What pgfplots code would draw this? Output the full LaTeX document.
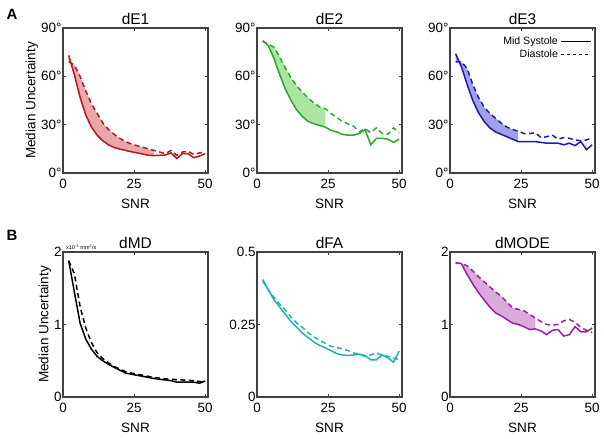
\documentclass[border=0pt]{standalone}
\usepackage{fontspec}
\setmainfont{Liberation Sans}
\usepackage{pgfplots}
\pgfplotsset{compat=1.18}

\definecolor{cred}{RGB}{190,20,28}
\definecolor{credf}{RGB}{232,168,170}
\definecolor{cgreen}{RGB}{40,170,40}
\definecolor{cgreenf}{RGB}{172,228,162}
\definecolor{cblue}{RGB}{28,28,175}
\definecolor{cbluef}{RGB}{160,160,228}
\definecolor{cteal}{RGB}{30,180,170}
\definecolor{cpurp}{RGB}{160,30,160}
\definecolor{cpurpf}{RGB}{218,170,218}
\definecolor{frame}{RGB}{65,65,65}

\pgfplotsset{
  panel/.style={
    scale only axis, width=145bp, height=145bp,
    xmin=0, xmax=51, xtick={0,25,50},
    axis line style={draw=frame, line width=1.3bp},
    tick style={draw=frame, line width=0.6bp},
    major tick length=3bp, tick align=inside,
    xlabel={SNR},
    ticklabel style={font=\fontsize{13.5}{13.5}\selectfont},
    xticklabel style={yshift=-3bp},
    yticklabel style={xshift=2bp},
    label style={font=\fontsize{13.6}{13.6}\selectfont},
    xlabel style={yshift=-3bp},
    ylabel style={yshift=-4bp},
    title style={font=\fontsize{15.5}{15.5}\selectfont, yshift=-6bp},
    /pgf/number format/assume math mode=true,
  },
  sol/.style={line width=1.5bp, solid},
  das/.style={line width=1.5bp, dash pattern=on 5bp off 3.5bp},
  deg/.style={ymin=0, ymax=90, ytick={0,30,60,90}, yticklabels={0°,30°,60°,90°}},
}

\begin{document}
\begin{tikzpicture}
\useasboundingbox (0,0) rectangle (604bp,439bp);

% ---- row A ----
\begin{axis}[panel, deg, at={(63bp,266bp)}, anchor=south west, title={dE1},
  ylabel={Median Uncertainty}]
% shaded band: solid 2..32, then dashed back 32..2
\addplot[fill=credf, draw=none, forget plot] coordinates {
 (2,73)(4,61)(6,47)(8,36)(10,28.5)(12,23.5)(14,20)(16,17.5)(18,15.8)(20,14.8)
 (22,14)(24,13.2)(26,12.5)(28,11.8)(30,11)(32,10.8)
 (32,14)(30,15)(28,16)(26,17)(24,18)(22,19.5)(20,21.5)(18,24)(16,27)(14,31)
 (12,37)(10,43)(8,51)(6,60)(4,67)(2,69)};
\addplot[cred, sol, forget plot] coordinates {
 (2,73)(4,61)(6,47)(8,36)(10,28.5)(12,23.5)(14,20)(16,17.5)(18,15.8)(20,14.8)
 (22,14)(24,13.2)(26,12.5)(28,11.8)(30,11)(32,10.8)(34,11)(36,11.2)(38,12.5)
 (40,9)(42,12)(44,12)(46,9.5)(48,10.5)(50,12)};
\addplot[cred, das, forget plot] coordinates {
 (2,69)(4,67)(6,60)(8,51)(10,43)(12,37)(14,31)(16,27)(18,24)(20,21.5)
 (22,19.5)(24,18)(26,17)(28,16)(30,15)(32,14)(34,13)(36,12)(38,14)
 (40,11)(42,13)(44,13.5)(46,11.5)(48,12.5)(50,13)};
\end{axis}

\begin{axis}[panel, deg, at={(257bp,266bp)}, anchor=south west, title={dE2}]
\addplot[fill=cgreenf, draw=none, forget plot] coordinates {
 (2,82)(4,79)(6,71)(8,61)(10,52)(12,45)(14,39)(16,35)(18,32)(20,30.5)
 (22,29.5)(24,28.5)
 (24,40)(22,41)(20,43.5)(18,46.5)(16,50)(14,54)(12,59)(10,65)(8,72)(6,78)
 (4,80)(2,82)};
\addplot[cgreen, sol, forget plot] coordinates {
 (2,82)(4,79)(6,71)(8,61)(10,52)(12,45)(14,39)(16,35)(18,32)(20,30.5)
 (22,29.5)(24,28.5)(26,26.5)(28,25.5)(30,24)(32,23.5)(34,23.5)(36,24.5)(38,27)
 (40,17.5)(42,21.5)(44,21.5)(46,21)(48,19)(50,21)};
\addplot[cgreen, das, forget plot] coordinates {
 (2,82)(4,80)(6,78)(8,72)(10,65)(12,59)(14,54)(16,50)(18,46.5)(20,43.5)
 (22,41)(24,40)(26,37)(28,34.5)(30,32)(32,30.5)(34,29)(36,25.5)(38,27.5)
 (40,25)(42,28)(44,24.5)(46,24)(48,28)(50,25)};
\end{axis}

\begin{axis}[panel, deg, at={(450bp,266bp)}, anchor=south west, title={dE3},
  legend style={draw=none, fill=none, at={(0.975,0.955)}, anchor=north east,
    font=\fontsize{10.6}{11}\selectfont, row sep=0bp, inner sep=0bp},
  legend plot pos=right, legend cell align=right,
  legend image code/.code={\draw[#1] (0bp,0bp) -- (30bp,0bp);}]
\addlegendimage{black, line width=1.3bp, solid}
\addlegendentry{Mid Systole}
\addlegendimage{black, line width=1.3bp, dash pattern=on 3.5bp off 2.5bp}
\addlegendentry{Diastole}
\addplot[fill=cbluef, draw=none, forget plot] coordinates {
 (2,74)(4,66)(6,55)(8,45)(10,37.5)(12,32)(14,28)(16,25.5)(18,24)(20,22.5)
 (22,21)(24,19.5)
 (24,26)(22,27)(20,28.5)(18,31)(16,34)(14,37)(12,41)(10,47)(8,55)(6,65)
 (4,69)(2,69)};
\addplot[cblue, sol, forget plot] coordinates {
 (2,74)(4,66)(6,55)(8,45)(10,37.5)(12,32)(14,28)(16,25.5)(18,24)(20,22.5)
 (22,21)(24,19.5)(26,19.5)(28,19.5)(30,19.5)(32,19)(34,18.5)(36,18.5)(38,18.5)
 (40,17.5)(42,18.5)(44,17)(46,19.5)(48,14.5)(50,17.5)};
\addplot[cblue, das, forget plot] coordinates {
 (2,69)(4,69)(6,65)(8,55)(10,47)(12,41)(14,37)(16,34)(18,31)(20,28.5)
 (22,27)(24,26)(26,24.5)(28,24.5)(30,25)(32,22)(34,22.5)(36,23.5)(38,21)
 (40,22)(42,21.5)(44,20.5)(46,20)(48,20.5)(50,22)};
\end{axis}

% ---- row B ----
\begin{axis}[panel, at={(63bp,42bp)}, anchor=south west, title={dMD},
  ylabel={Median Uncertainty}, ymin=0, ymax=2, ytick={0,1,2}]
\addplot[black, sol, forget plot] coordinates {
 (2,1.88)(4,1.45)(6,1.02)(8,0.80)(10,0.66)(12,0.56)(14,0.50)(16,0.45)(18,0.41)
 (20,0.37)(22,0.33)(24,0.315)(26,0.30)(28,0.285)(30,0.27)(32,0.255)(34,0.245)
 (36,0.235)(38,0.225)(40,0.205)(42,0.205)(44,0.205)(46,0.205)(48,0.19)(50,0.22)};
\addplot[black, das, forget plot] coordinates {
 (2,1.88)(4,1.70)(6,1.25)(8,0.95)(10,0.75)(12,0.61)(14,0.53)(16,0.47)(18,0.42)
 (20,0.385)(22,0.35)(24,0.33)(26,0.315)(28,0.30)(30,0.285)(32,0.27)(34,0.26)
 (36,0.25)(38,0.245)(40,0.24)(42,0.235)(44,0.23)(46,0.225)(48,0.215)(50,0.2)};
\end{axis}
\node[anchor=south west, font=\fontsize{5.5}{5.5}\selectfont, inner sep=0pt]
  at (66bp,189.5bp) {x10\textsuperscript{-3} mm\textsuperscript{2}/s};

\begin{axis}[panel, at={(257bp,42bp)}, anchor=south west, title={dFA},
  ymin=0, ymax=0.5, ytick={0,0.25,0.5}, yticklabels={0,0.25,0.5}]
\addplot[cteal, sol, forget plot] coordinates {
 (2,0.405)(4,0.37)(6,0.335)(8,0.31)(10,0.285)(12,0.26)(14,0.24)(16,0.22)(18,0.205)
 (20,0.19)(22,0.178)(24,0.17)(26,0.16)(28,0.15)(30,0.145)(32,0.143)(34,0.145)
 (36,0.148)(38,0.143)(40,0.128)(42,0.128)(44,0.145)(46,0.135)(48,0.12)(50,0.158)};
\addplot[cteal, das, forget plot] coordinates {
 (2,0.40)(4,0.368)(6,0.343)(8,0.32)(10,0.30)(12,0.275)(14,0.255)(16,0.24)(18,0.222)
 (20,0.207)(22,0.196)(24,0.185)(26,0.175)(28,0.17)(30,0.167)(32,0.16)(34,0.152)
 (36,0.148)(38,0.14)(40,0.145)(42,0.153)(44,0.143)(46,0.14)(48,0.135)(50,0.128)};
\end{axis}

\begin{axis}[panel, at={(450bp,42bp)}, anchor=south west, title={dMODE},
  ymin=0, ymax=2, ytick={0,1,2}]
\addplot[fill=cpurpf, draw=none, forget plot] coordinates {
 (2,1.85)(4,1.84)(6,1.69)(8,1.56)(10,1.44)(12,1.34)(14,1.24)(16,1.16)(18,1.12)
 (20,1.07)(22,1.02)(24,1.0)(26,0.97)(28,0.93)(30,0.94)
 (30,1.09)(28,1.14)(26,1.19)(24,1.21)(22,1.23)(20,1.31)(18,1.39)(16,1.45)
 (14,1.52)(12,1.59)(10,1.66)(8,1.74)(6,1.81)(4,1.84)(2,1.85)};
\addplot[cpurp, sol, forget plot] coordinates {
 (2,1.85)(4,1.84)(6,1.69)(8,1.56)(10,1.44)(12,1.34)(14,1.24)(16,1.16)(18,1.12)
 (20,1.07)(22,1.02)(24,1.0)(26,0.97)(28,0.93)(30,0.94)(32,0.91)(34,0.86)
 (36,0.92)(38,0.93)(40,0.84)(42,0.86)(44,0.97)(46,0.9)(48,0.9)(50,0.95)};
\addplot[cpurp, das, forget plot] coordinates {
 (2,1.85)(4,1.84)(6,1.81)(8,1.74)(10,1.66)(12,1.59)(14,1.52)(16,1.45)(18,1.39)
 (20,1.31)(22,1.23)(24,1.21)(26,1.19)(28,1.14)(30,1.09)(32,1.04)(34,1.0)
 (36,0.99)(38,1.0)(40,1.05)(42,1.07)(44,1.03)(46,0.96)(48,0.92)(50,0.89)};
\end{axis}

\node[font=\bfseries\fontsize{15}{15}\selectfont] at (12bp,425bp) {A};
\node[font=\bfseries\fontsize{15}{15}\selectfont] at (12bp,204bp) {B};
\end{tikzpicture}
\end{document}
